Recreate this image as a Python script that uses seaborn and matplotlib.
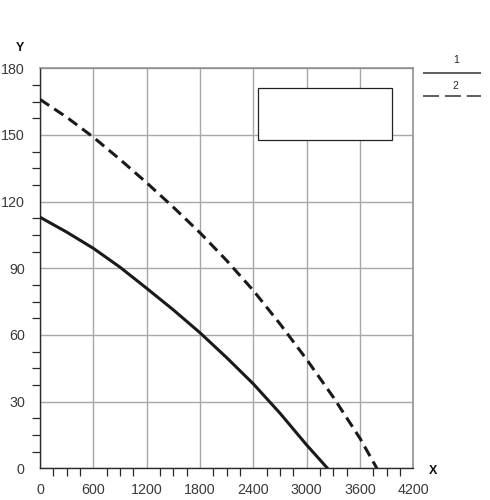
import matplotlib
matplotlib.use("Agg")
import matplotlib.pyplot as plt
from matplotlib.patches import Rectangle
from matplotlib.ticker import MultipleLocator
import pandas as pd
import seaborn as sns

# values
x_curve1 = [0, 300, 600, 900, 1200, 1500, 1800, 2100, 2400, 2700, 3000, 3235]
y_curve1 = [113, 106.3, 99, 90.5, 81, 71.3, 61, 49.8, 38, 24.8, 10.5, 0]
x_curve2 = [0, 300, 600, 900, 1200, 1500, 1800, 2100, 2400, 2700, 3000, 3300, 3600, 3790]
y_curve2 = [166, 158, 149, 139, 128.5, 117.5, 106, 93.5, 80, 65, 49, 32, 13.5, 0]
series_names = ["1", "2"]
x_ticks = [0, 600, 1200, 1800, 2400, 3000, 3600, 4200]
y_ticks = [0, 30, 60, 90, 120, 150, 180]

df = pd.concat([
    pd.DataFrame({"x": x_curve1, "y": y_curve1, "curve": series_names[0]}),
    pd.DataFrame({"x": x_curve2, "y": y_curve2, "curve": series_names[1]}),
])

sns.set_style("white")
plt.rcParams["font.family"] = ["Liberation Sans", "DejaVu Sans"]

fig = plt.figure(figsize=(4.9, 5.0), dpi=100)
ax = fig.add_axes([40 / 490, 31.7 / 500, 373.3 / 490, 400 / 500])

line_col = "#1a1a1a"
grid_col = "#a8a8a8"

sns.lineplot(data=df, x="x", y="y", style="curve", ax=ax,
             dashes={"1": "", "2": (3.6, 2.0)}, color=line_col,
             linewidth=2.2, estimator=None, sort=False, legend=False, zorder=4)
for ln in ax.lines:
    ln.set_solid_joinstyle("round")
    ln.set_dash_joinstyle("round")

ax.set_xlim(0, 4200)
ax.set_ylim(0, 180)
ax.set_xticks(x_ticks)
ax.set_yticks(y_ticks)
ax.xaxis.set_minor_locator(MultipleLocator(150))
ax.yaxis.set_minor_locator(MultipleLocator(7.5))
ax.grid(True, which="major", color=grid_col, linewidth=1.0)
ax.set_axisbelow(True)
ax.set_xlabel("")
ax.set_ylabel("")

for side in ["left", "bottom"]:
    ax.spines[side].set_color("#2a2a2a")
    ax.spines[side].set_linewidth(1.0)
for side in ["top", "right"]:
    ax.spines[side].set_color("#8a8a8a")
    ax.spines[side].set_linewidth(1.1)

ax.tick_params(axis="y", which="major", direction="out", length=9.4, width=0.9,
               color="#2a2a2a", labelsize=10.3, labelcolor="#3a3a3a", pad=1.5)
ax.tick_params(axis="y", which="minor", direction="out", length=5.8, width=0.9,
               color="#2a2a2a", left=True)
ax.tick_params(axis="x", which="major", direction="out", length=7.9, width=0.9,
               color="#2a2a2a", labelsize=10.3, labelcolor="#3a3a3a", pad=3)
ax.tick_params(axis="x", which="minor", direction="out", length=5.8, width=0.9,
               color="#2a2a2a", bottom=True)

# axis letters
fig.text(20 / 490, 1 - 48 / 500, "Y", fontsize=9, fontweight="heavy",
         ha="center", va="center", color="#111111")
fig.text(433 / 490, 1 - 471 / 500, "X", fontsize=9, fontweight="heavy",
         ha="center", va="center", color="#111111")

# empty box inside the plot
ax.add_patch(Rectangle((0.583, 0.821), 0.359, 0.1305, transform=ax.transAxes,
                       facecolor="white", edgecolor="#222222", linewidth=0.9,
                       zorder=5))

# key at the right
lax = fig.add_axes([423 / 490, 1 - 100 / 500, 58 / 490, 45 / 500])
lax.set_xlim(0, 1)
lax.set_ylim(0, 1)
lax.axis("off")
lax.plot([0, 1], [0.6, 0.6], color="#333333", linewidth=1.1)
lax.plot([0, 1], [0.09, 0.09], color="#333333", linewidth=1.1,
         linestyle=(0, (10.5, 3.8)))
lax.text(0.58, 0.89, series_names[0], fontsize=7.5, ha="center", va="center",
         color="#222222")
lax.text(0.55, 0.31, series_names[1], fontsize=7.5, ha="center", va="center",
         color="#222222")

fig.savefig("out.png", dpi=100)
